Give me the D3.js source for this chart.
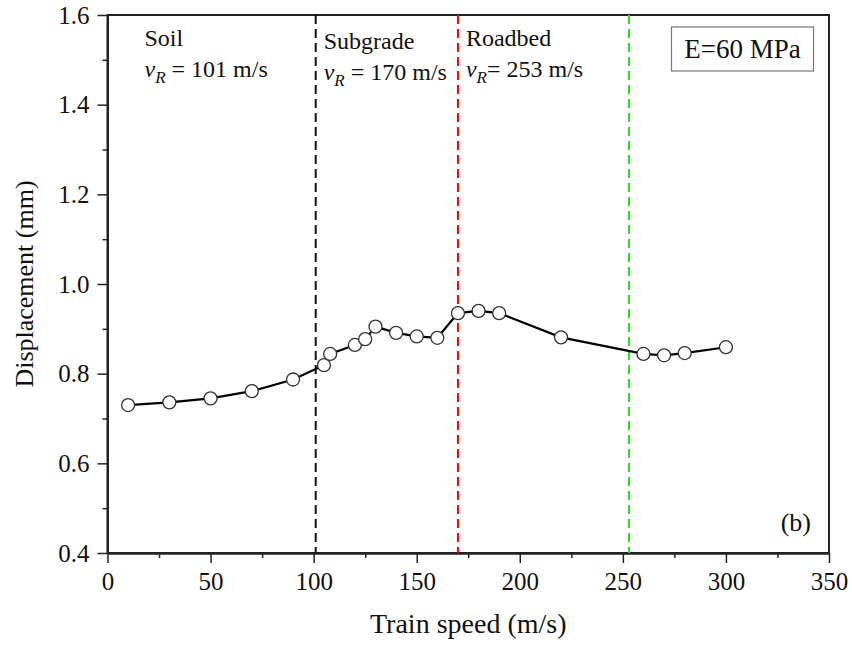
<!DOCTYPE html>
<html>
<head>
<meta charset="utf-8">
<script src="https://cdn.jsdelivr.net/npm/d3@7"></script>
<style>
  body { margin: 0; background: #fff; }
</style>
</head>
<body>
<div id="chart"></div>
<script>
// Data
const speeds = [10, 30, 50, 70, 90, 105, 108, 120, 125, 130, 140, 150, 160, 170, 180, 190, 220, 260, 270, 280, 300];
const displacement = [0.730, 0.736, 0.745, 0.761, 0.787, 0.819, 0.844, 0.864, 0.877, 0.905, 0.891, 0.883, 0.880, 0.935, 0.940, 0.935, 0.881, 0.844, 0.841, 0.846, 0.859];

const xTicks = [0, 50, 100, 150, 200, 250, 300, 350];
const yTicks = [0.4, 0.6, 0.8, 1.0, 1.2, 1.4, 1.6];
const xMinor = [25, 75, 125, 175, 225, 275, 325];
const yMinor = [0.5, 0.7, 0.9, 1.1, 1.3, 1.5];

// Rayleigh wave speed boundaries; each label sits to the right of the previous boundary
const zoneNames = ["Soil", "Subgrade", "Roadbed"];
const zoneVr = [101, 170, 253];
const zoneStart = [0, 101, 170];
const zoneColors = ["#111111", "#ff0000", "#1ee61e"];
const zoneSep = [" = ", " = ", "= "];

const FONT = "'Liberation Serif', 'Times New Roman', serif";

// Set up dimensions
const W = 852, H = 645;
const margin = {top: 15, right: 23, bottom: 92, left: 107.5};
const width = W - margin.left - margin.right;
const height = H - margin.top - margin.bottom;

const root = d3.select("#chart")
    .append("svg")
    .attr("width", W)
    .attr("height", H)
    .style("font-family", FONT);

const svg = root.append("g")
    .attr("transform", `translate(${margin.left},${margin.top})`);

const x = d3.scaleLinear().domain([0, 350]).range([0, width]);
const y = d3.scaleLinear().domain([0.4, 1.6]).range([height, 0]);

// Frame (top and right)
svg.append("rect")
    .attr("x", 0).attr("y", 0)
    .attr("width", width).attr("height", height)
    .attr("fill", "none")
    .attr("stroke", "#222")
    .attr("stroke-width", 2);

// Axes
svg.append("g")
    .attr("transform", `translate(0,${height})`)
    .call(d3.axisBottom(x).tickValues(xTicks).tickFormat(d3.format("d")).tickSize(10).tickSizeOuter(0).tickPadding(9));

svg.append("g")
    .attr("transform", `translate(0,${height})`)
    .call(d3.axisBottom(x).tickValues(xMinor).tickFormat("").tickSize(5).tickSizeOuter(0));

svg.append("g")
    .call(d3.axisLeft(y).tickValues(yTicks).tickFormat(d3.format(".1f")).tickSize(10).tickSizeOuter(0).tickPadding(8));

svg.append("g")
    .call(d3.axisLeft(y).tickValues(yMinor).tickFormat("").tickSize(5).tickSizeOuter(0));

svg.selectAll(".domain").attr("stroke", "#222").attr("stroke-width", 2);
svg.selectAll(".tick line").attr("stroke", "#222").attr("stroke-width", 1.5);
svg.selectAll("g").attr("font-family", null).attr("font-size", null);
svg.selectAll(".tick text")
    .style("font-size", "25px")
    .style("font-family", FONT)
    .attr("fill", "#111");

// Axis labels
svg.append("text")
    .attr("x", width / 2)
    .attr("y", height + 80)
    .attr("text-anchor", "middle")
    .style("font-family", FONT)
    .style("font-size", "28px")
    .attr("fill", "#111")
    .text("Train speed (m/s)");

svg.append("text")
    .attr("transform", "rotate(-90)")
    .attr("x", -height / 2)
    .attr("y", -margin.left + 33)
    .attr("text-anchor", "middle")
    .style("font-family", FONT)
    .style("font-size", "26px")
    .attr("fill", "#111")
    .text("Displacement (mm)");

// Dashed boundary lines
svg.selectAll(".vr-line")
    .data(zoneVr)
    .enter().append("line")
    .attr("class", "vr-line")
    .attr("x1", d => x(d)).attr("x2", d => x(d))
    .attr("y1", 0).attr("y2", height)
    .attr("stroke", (d, i) => zoneColors[i])
    .attr("stroke-width", 2)
    .attr("stroke-dasharray", "9,5");

// Zone labels
zoneNames.forEach(function(name, i) {
    const tx = i === 0 ? 37 : x(zoneStart[i]) + 8;
    svg.append("text")
        .attr("x", tx)
        .attr("y", i === 1 ? 34 : 31)
        .style("font-family", FONT)
        .style("font-size", "24px")
        .attr("fill", "#111")
        .text(name);

    const t = svg.append("text")
        .attr("x", tx)
        .attr("y", i === 1 ? 65 : 62)
        .style("font-family", FONT)
        .style("font-size", "24px")
        .attr("fill", "#111");
    t.append("tspan").style("font-style", "italic").text("v");
    t.append("tspan").style("font-style", "italic").style("font-size", "17px").attr("dy", 6).text("R");
    t.append("tspan").attr("dy", -6).text(zoneSep[i] + zoneVr[i] + " m/s");
});

// Line and markers
const pts = speeds.map((s, i) => ({s: s, d: displacement[i]}));

svg.append("path")
    .datum(pts)
    .attr("fill", "none")
    .attr("stroke", "#000")
    .attr("stroke-width", 2.2)
    .attr("d", d3.line().x(d => x(d.s)).y(d => y(d.d)));

svg.selectAll(".pt")
    .data(pts)
    .enter().append("circle")
    .attr("class", "pt")
    .attr("cx", d => x(d.s))
    .attr("cy", d => y(d.d))
    .attr("r", 6.5)
    .attr("fill", "#fff")
    .attr("stroke", "#333")
    .attr("stroke-width", 1.3);

// E=60 MPa box
svg.append("rect")
    .attr("x", 564).attr("y", 12)
    .attr("width", 142).attr("height", 44)
    .attr("fill", "#fff")
    .attr("stroke", "#777")
    .attr("stroke-width", 1.2);

svg.append("text")
    .attr("x", 635).attr("y", 43)
    .attr("text-anchor", "middle")
    .style("font-family", FONT)
    .style("font-size", "27px")
    .attr("fill", "#111")
    .text("E=60 MPa");

// Panel tag
svg.append("text")
    .attr("x", width - 18).attr("y", height - 22)
    .attr("text-anchor", "end")
    .style("font-family", FONT)
    .style("font-size", "26px")
    .attr("fill", "#111")
    .text("(b)");
</script>
</body>
</html>
